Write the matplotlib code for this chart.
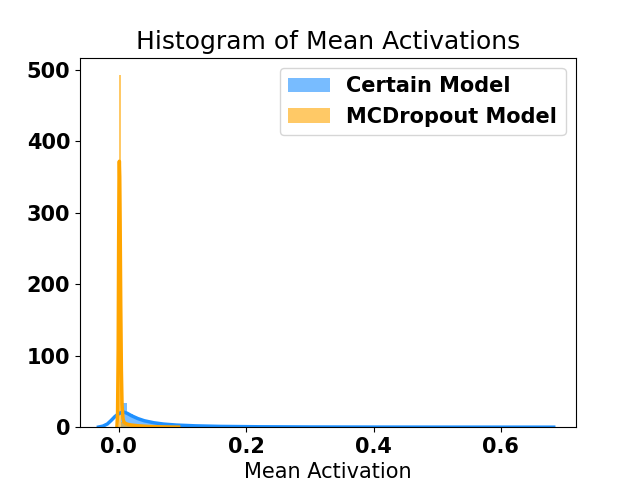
import numpy as np
import matplotlib.pyplot as plt

# histogram bins (left edge, width) and densities
certain_start = 0.004
certain_width = 0.0095
certain_density = [34, 19, 13, 9, 6.5, 5, 4, 3.2, 2.6, 2.1, 1.8, 1.5, 1.3, 1.1,
                   0.95, 0.8, 0.7, 0.6, 0.52, 0.45, 0.4, 0.35, 0.3, 0.26, 0.23,
                   0.2, 0.18, 0.16, 0.14, 0.12, 0.1, 0.09, 0.08, 0.07, 0.06, 0.05]

mc_start = -0.0005
mc_width = 0.0033
mc_density = [492, 7, 4, 3, 2.4, 2, 1.7, 1.5, 1.3, 1.1, 1.0, 0.9, 0.75, 0.6,
              0.5, 0.42, 0.35, 0.3, 0.25, 0.2, 0.17, 0.14, 0.12, 0.1, 0.08,
              0.07, 0.06, 0.05]

# kde curves
certain_kde_x = [-0.032, -0.025, -0.018, -0.012, -0.006, 0.0, 0.004, 0.008, 0.013,
                 0.02, 0.03, 0.04, 0.055, 0.07, 0.09, 0.12, 0.16, 0.22, 0.3, 0.4,
                 0.5, 0.6, 0.683]
certain_kde_y = [0.2, 1.5, 4.5, 9.5, 15, 19, 20.5, 21, 19.5, 16, 12, 9, 6.2,
                 4.4, 3.0, 1.9, 1.1, 0.6, 0.3, 0.15, 0.08, 0.05, 0.03]

mc_kde_x = [-0.003, -0.002, -0.001, -0.0003, 0.0003, 0.0008, 0.0014, 0.002,
            0.003, 0.004, 0.005, 0.0065, 0.008, 0.011, 0.015, 0.02, 0.03, 0.045,
            0.06, 0.08, 0.094]
mc_kde_y = [0, 20, 110, 260, 350, 372, 350, 290, 170, 80, 32, 12, 7, 5, 3.8,
            3, 2, 1.1, 0.6, 0.25, 0.1]

fig, ax = plt.subplots(figsize=(6.4, 4.8), dpi=100)

certain_left = certain_start + certain_width * np.arange(len(certain_density))
mc_left = mc_start + mc_width * np.arange(len(mc_density))

ax.bar(certain_left, certain_density, width=certain_width, align='edge',
       color='dodgerblue', alpha=0.6, linewidth=0, label='Certain Model')
ax.plot(certain_kde_x, certain_kde_y, color='dodgerblue', lw=2.5)
ax.bar(mc_left, mc_density, width=mc_width, align='edge',
       color='orange', alpha=0.6, linewidth=0, label='MCDropout Model')
ax.plot(mc_kde_x, mc_kde_y, color='orange', lw=2.5)

ax.set_xlim(-0.061, 0.718)
ax.set_ylim(0, 517)
ax.set_xticks([0.0, 0.2, 0.4, 0.6])
ax.set_yticks([0, 100, 200, 300, 400, 500])
for lbl in ax.get_xticklabels() + ax.get_yticklabels():
    lbl.set_fontsize(15)
    lbl.set_fontweight('bold')

ax.set_title('Histogram of Mean Activations', fontsize=18)
ax.set_xlabel('Mean Activation', fontsize=15)
ax.legend(loc='upper right', prop={'size': 15, 'weight': 'bold'})

fig.savefig('out.png')
